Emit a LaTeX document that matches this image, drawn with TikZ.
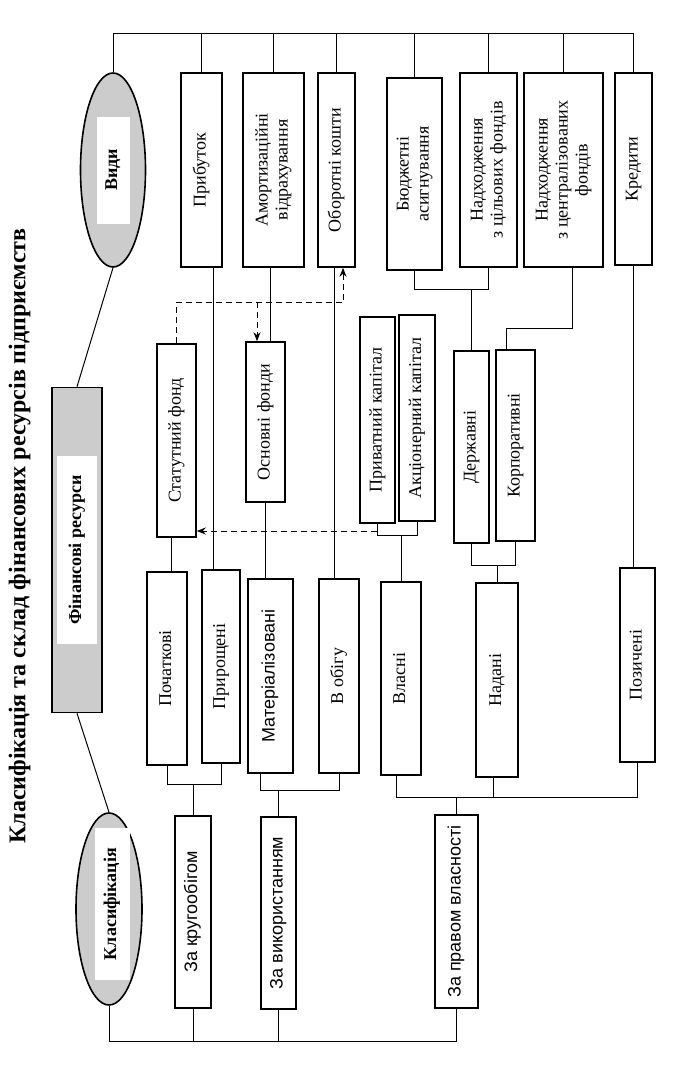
\documentclass[tikz,border=0pt]{standalone}
\usepackage{graphicx}
\usepackage{fontspec}
\setmainfont{Liberation Serif}
\setsansfont{Liberation Sans}
\usetikzlibrary{shapes.geometric,arrows.meta}

\newcommand{\vtext}[1]{\rotatebox{90}{\begin{tabular}{@{}c@{}}#1\end{tabular}}}

\begin{document}
\begin{tikzpicture}[x=1pt, y=-1pt, >={Stealth[length=9pt,width=7pt,inset=3pt]}, line width=1pt,
    font=\fontsize{18}{20}\selectfont,
    box/.style={draw, line width=1.6pt, inner sep=0pt, minimum height=194pt},
    oval/.style={draw, ellipse, line width=1.6pt, fill=gray!40, inner sep=0pt},
    patch/.style={fill=white, inner sep=0pt, font=\fontsize{18}{20}\selectfont\bfseries},
    dasharr/.style={->, dash pattern=on 6pt off 4pt}]
  \useasboundingbox (0,0) rectangle (672,1065);

  \node (title) at (20,536) {\vtext{\bfseries\fontsize{24}{26}\selectfont Класифікація та склад фінансових ресурсів підприємств}};

  % main nodes
  \node[oval, minimum width=65pt, minimum height=194pt] (vydy) at (113,170) {};
  \node[patch, minimum width=33pt, minimum height=107pt] at (vydy) {\vtext{Види}};
  \node[oval, minimum width=66pt, minimum height=192pt] (klas) at (109,909) {};
  \node[patch, minimum width=35pt, minimum height=152pt] at (112,904) {\vtext{Класифікація}};
  \node[draw, line width=1.6pt, fill=gray!40, minimum width=50pt, minimum height=325pt] (fin) at (77,550) {};
  \node[patch, minimum width=40pt, minimum height=188pt] at (fin) {\vtext{Фінансові ресурси}};

  % kinds
  \node[box, minimum width=41pt] (prib) at (201.5,170) {\vtext{Прибуток}};
  \node[box, minimum width=61pt] (amort) at (273.5,170) {\vtext{Амортизаційні\\відрахування}};
  \node[box, minimum width=37pt] (obor) at (336.5,170) {\vtext{Оборотні кошти}};
  \node[box, minimum width=55pt, minimum height=192pt] (budg) at (414.5,174) {\vtext{Бюджетні\\асигнування}};
  \node[box, minimum width=57pt] (tsil) at (488.5,170) {\vtext{Надходження\\з цільових фондів}};
  \node[box, minimum width=79pt] (tsentr) at (563.5,170) {\vtext{Надходження\\з централізованих\\фондів}};
  \node[box, minimum width=37pt, minimum height=192pt] (kred) at (633.5,169) {\vtext{Кредити}};

  % composition
  \node[box, minimum width=39pt, minimum height=193pt] (stat) at (176.5,440.5) {\vtext{Статутний фонд}};
  \node[box, minimum width=39pt, minimum height=160pt] (osn) at (265.5,422) {\vtext{Основні фонди}};
  \node[box, minimum width=35pt, minimum height=206pt] (pryv) at (377.5,420) {\vtext{Приватний капітал}};
  \node[box, minimum width=36pt, minimum height=206pt] (akts) at (417,418) {\vtext{Акціонерний капітал}};
  \node[box, minimum width=35pt, minimum height=192pt] (derzh) at (471.5,447) {\vtext{Державні}};
  \node[box, minimum width=39pt, minimum height=191pt] (korp) at (515.5,445.5) {\vtext{Корпоративні}};

  % groups
  \node[box, minimum width=40pt, minimum height=193pt] (poch) at (167,668.5) {\vtext{Початкові}};
  \node[box, minimum width=38pt, minimum height=193pt] (prir) at (221,666.5) {\vtext{Прирощені}};
  \node[box, minimum width=45pt] (mater) at (270.5,676) {\vtext{\sffamily Матеріалізовані}};
  \node[box, minimum width=40pt] (obig) at (339,676) {\vtext{В обігу}};
  \node[box, minimum width=40pt, minimum height=193pt] (vlas) at (401,678.5) {\vtext{Власні}};
  \node[box, minimum width=42pt] (nad) at (497,680) {\vtext{Надані}};
  \node[box, minimum width=35pt] (poz) at (637.5,665) {\vtext{Позичені}};

  % criteria
  \node[box, minimum width=36pt, minimum height=192pt] (krug) at (193,912) {\vtext{\sffamily За кругообігом}};
  \node[box, minimum width=35pt, minimum height=192pt] (vykor) at (278.5,913) {\vtext{\sffamily За використанням}};
  \node[box, minimum width=43pt, minimum height=193pt] (prav) at (456.5,911.5) {\vtext{\sffamily За правом власності}};

  \coordinate (vbus) at (0,34);
  \coordinate (kbus) at (0,1041);
  \coordinate (s1) at (377,531);

  \draw (vydy.south) -- (fin.north);
  \draw (fin.south) -- (klas.north);

  % bus of kinds
  \draw (vydy.north) -- (vydy.north |- vbus) -| (kred.north);
  \foreach \n in {prib,amort,obor,budg,tsil,tsentr}
    \draw (\n.north) -- (\n.north |- vbus);

  % bus of criteria
  \draw (klas.south) -- (klas.south |- kbus) -| (prav.south);
  \foreach \n in {krug,vykor}
    \draw (\n.south) -- (\n.south |- kbus);

  % brackets
  \draw (krug.north) -- ++(0,-31) coordinate (k1);
  \draw (poch.south) |- (k1) -| (prir.south);
  \draw (vykor.north) -- ++(0,-26) coordinate (k2);
  \draw ([xshift=-10pt]mater.south) |- (k2) -| (obig.south);
  \draw (prav.north) -- ++(0,-17) coordinate (k3);
  \draw ([xshift=-5pt]vlas.south) |- (k3) -| (poz.south);
  \draw ([xshift=-4pt]nad.south) -- ([xshift=-4pt]nad.south |- k3);

  \draw (vlas.north) -- ++(0,-46) coordinate (v1);
  \draw (pryv.south) |- (v1) -| (akts.south);
  \draw (nad.north) -- ++(0,-17) coordinate (n1);
  \draw (derzh.south) |- (n1) -| (korp.south);
  \draw (derzh.north) -- ++(0,-61) coordinate (d1);
  \draw (budg.south) |- (d1) -| (tsil.south);
  \draw ([xshift=-9pt]korp.north) -- ++(0,-21) -| ([xshift=9pt]tsentr.south);

  % links
  \draw ([xshift=-5pt]stat.south) -- ([xshift=-5pt]stat.south |- poch.north);
  \draw ([xshift=11.5pt]prib.south) -- ([xshift=11.5pt]prib.south |- prir.north);
  \draw ([xshift=-3pt]amort.south) -- ([xshift=-3pt]amort.south |- osn.north);
  \draw (osn.south) -- (osn.south |- mater.north);
  \draw ([xshift=-2pt]obor.south) -- ([xshift=-2pt]obor.south |- obig.north);
  \draw (kred.south) -- (kred.south |- poz.north);

  % dashed
  \draw[dasharr] (s1) -- (s1 -| stat.east);
  \draw[dasharr] (stat.north) -- ++(0,-41) coordinate (s2) -| ([xshift=6.5pt]obor.south);
  \draw[dasharr] ([xshift=-8.5pt]osn.north |- s2) -- ([xshift=-8.5pt]osn.north);
\end{tikzpicture}
\end{document}
